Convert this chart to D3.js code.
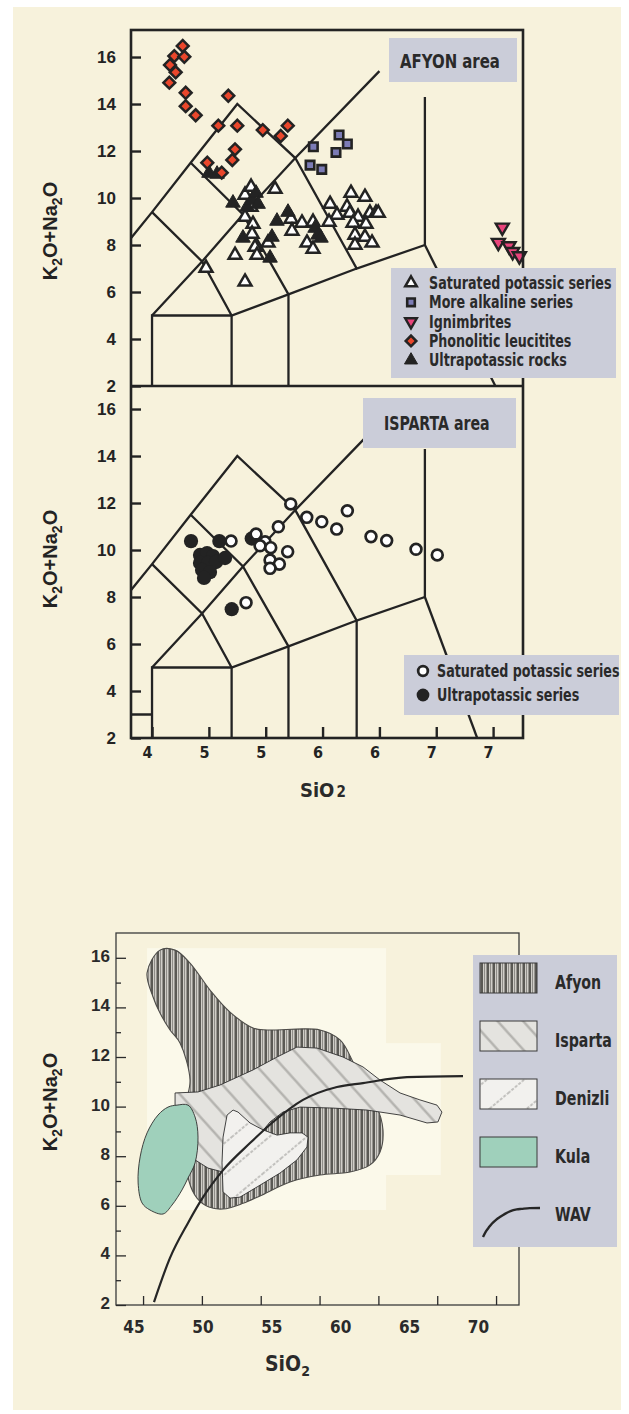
<!DOCTYPE html>
<html>
<head>
<meta charset="utf-8">
<script src="https://cdn.jsdelivr.net/npm/d3@7"></script>
<style>
body { margin: 0; background: #fff; }
svg { display: block; }
</style>
</head>
<body>
<script>
// ---- data ----
var tasTicksX = [45, 50, 55, 60, 65, 70, 75];
var tasTickLabelsX = ['4', '5', '5', '6', '6', '7', '7'];
var tasTicksY = [2, 4, 6, 8, 10, 12, 14, 16];

// TAS field boundaries (SiO2, K2O+Na2O)
var tasLines = [
  [[41, 7], [45, 9.4], [48.4, 11.5], [52.5, 14], [57.6, 11.7], [63, 7], [69, 8]],
  [[45, 9.4], [49.4, 7.3], [52, 5]],
  [[45, 5], [49.4, 7.3], [53, 9.3], [57.6, 11.7], [65, 15.4]],
  [[48.4, 11.5], [53, 9.3], [57, 5.9]],
  [[45, 2], [45, 5], [52, 5], [57, 5.9], [63, 7]],
  [[52, 2], [52, 5]],
  [[57, 2], [57, 5.9]],
  [[69, 8], [69, 14.3]]
];
var afyonOnlyLines = [[[69, 8], [75.2, 2]]];
var ispartaOnlyLines = [[[69, 8], [73.6, 2]], [[63, 2], [63, 7]], [[41, 3], [45, 3]]];

var afyonSaturated = [[53.18, 10.13], [53.71, 10.47], [55.82, 10.38], [53.18, 9.19], [53.88, 8.89], [53.8, 8.47],
  [54.06, 7.91], [54.23, 7.57], [55.2, 8.09], [52.3, 7.57], [57.23, 9.11], [57.31, 8.6], [58.19, 8.94], [58.63, 8.09],
  [59.16, 7.83], [59.16, 8.98], [60.66, 9.74], [61.27, 9.28], [60.57, 8.98], [62.5, 10.21], [63.73, 10.04], [62.15, 9.62],
  [62.41, 9.36], [63.12, 9.19], [64.17, 9.36], [64.7, 9.36], [64.9, 9.36], [62.68, 8.94], [63.82, 8.89], [62.85, 8.43],
  [63.73, 8.34], [62.85, 8.0], [64.35, 8.09], [49.75, 7.02], [53.18, 6.43], [53.71, 9.62]];
var afyonUltrapotassic = [[50.01, 11.06], [50.72, 11.02], [52.12, 9.79], [53.36, 9.62], [53.8, 9.91], [54.15, 10.21],
  [54.33, 9.74], [55.99, 9.02], [56.96, 9.4], [53.0, 8.3], [55.55, 8.34], [55.38, 7.45], [59.34, 8.72], [59.6, 8.43],
  [59.86, 8.3]];
var afyonAlkaline = [[61.45, 12.68], [62.18, 12.3], [61.18, 11.94], [59.19, 12.18], [58.9, 11.4], [59.93, 11.22]];
var afyonIgnimbrite = [[75.81, 8.75], [75.46, 8.1], [76.4, 7.96], [76.72, 7.71], [77.31, 7.53]];
var afyonLeucitite = [[47.7, 16.47], [46.96, 16.04], [47.84, 16.01], [46.58, 15.66], [47.08, 15.35], [46.52, 14.91],
  [47.96, 14.48], [47.96, 13.91], [48.84, 13.52], [51.71, 14.35], [50.83, 13.08], [52.5, 13.08], [54.74, 12.89],
  [56.94, 13.08], [56.32, 12.64], [52.3, 12.07], [52.06, 11.62], [49.86, 11.5], [51.13, 11.08]];

var ispartaSaturated = [[57.2, 11.96], [56.11, 10.99], [58.61, 11.39], [59.93, 11.2], [61.24, 10.89], [62.18, 11.67],
  [64.26, 10.57], [65.64, 10.4], [68.22, 10.03], [70.09, 9.79], [51.95, 10.38], [54.15, 10.68], [54.94, 10.35],
  [54.5, 10.18], [55.44, 10.1], [56.93, 9.93], [55.38, 9.57], [56.2, 9.4], [55.38, 9.22], [53.27, 7.76]];
var ispartaUltrapotassic = [[48.43, 10.38], [50.92, 10.38], [53.77, 10.49], [52.01, 7.48], [49.22, 9.79], [49.84, 9.87],
  [50.36, 9.74], [49.22, 9.45], [49.93, 9.45], [50.63, 9.49], [51.42, 9.66], [49.4, 9.15], [50.1, 9.06], [49.57, 8.81]];

var afyonLegend = ['Saturated potassic series', 'More alkaline series', 'Ignimbrites', 'Phonolitic leucitites', 'Ultrapotassic rocks'];
var ispartaLegend = ['Saturated potassic series', 'Ultrapotassic series'];

// comparison plot
var allTicksX = [45, 50, 55, 60, 65, 70, 75];
var allLabelsX = [45, 50, 55, 60, 65, 70];
var allTicksY = [2, 4, 6, 8, 10, 12, 14, 16];
var allMinorY = [3, 5, 7, 9, 11, 13, 15];

var fieldAfyon = [[45.34, 15.39], [46.44, 16.31], [47.72, 16.31], [48.99, 15.79], [50.69, 14.7], [52.39, 13.81],
  [54.35, 13.17], [55.54, 13.09], [60.04, 13.09], [61.74, 12.69], [62.76, 11.88], [63.61, 10.87], [64.8, 10.06],
  [65.39, 9.06], [65.14, 8.17], [64.29, 7.65], [62.59, 7.36], [60.04, 7.24], [57.49, 6.96], [54.94, 6.4], [53.5, 6.1],
  [51.8, 5.87], [50.6, 5.95], [49.6, 6.3], [48.9, 7.0], [48.6, 8.5], [48.6, 10.0], [48.99, 11.07], [48.14, 12.56],
  [47.29, 13.09], [46.44, 13.77], [45.85, 14.42]];
var fieldIsparta = [[47.72, 10.55], [49.67, 10.59], [51.54, 10.87], [54.35, 11.48], [56.39, 12.0], [58.08, 12.4],
  [59.78, 12.36], [61.99, 12.0], [63.69, 11.6], [65.14, 11.07], [66.84, 10.55], [68.53, 10.27], [69.98, 10.06],
  [70.4, 9.78], [70.06, 9.38], [69.13, 9.34], [66.84, 9.66], [64.03, 9.86], [61.14, 9.94], [58.34, 9.98], [56.89, 9.78],
  [55.79, 9.38], [54.52, 8.65], [53.24, 7.93], [51.8, 7.36], [50.52, 7.52], [49.42, 7.85], [48.57, 8.25], [47.97, 9.06],
  [47.72, 9.86]];
var fieldDenizli = [[52.14, 9.66], [52.65, 9.86], [53.07, 9.78], [54.09, 9.34], [55.2, 9.06], [56.39, 8.85],
  [57.49, 8.94], [58.51, 8.94], [59.02, 8.77], [58.93, 8.37], [58.08, 7.85], [56.64, 7.32], [54.69, 6.76], [53.24, 6.35],
  [52.39, 6.31], [51.8, 6.56], [51.71, 7.73], [51.8, 8.77]];
var fieldKula = [[47.89, 10.06], [48.82, 10.06], [49.42, 9.58], [49.67, 8.77], [49.42, 7.73], [48.82, 7.12],
  [48.31, 6.64], [47.46, 6.03], [46.7, 5.67], [45.59, 5.83], [44.92, 6.11], [44.58, 6.92], [44.75, 7.97], [45.34, 8.94],
  [46.27, 9.66], [47.12, 9.98]];
var wavLine = [[45.93, 2.12], [47.29, 3.9], [48.82, 5.31], [50.1, 6.35], [51.8, 7.44], [54.09, 8.53], [56.05, 9.38],
  [58.59, 10.27], [61.48, 10.79], [63.69, 10.95], [67.43, 11.19], [72.19, 11.23]];
var regionLegend = ['Afyon', 'Isparta', 'Denizli', 'Kula', 'WAV'];

// ---- drawing ----
var ink = '#232323';
var condFont = '"DejaVu Sans Condensed", "DejaVu Sans", sans-serif';
var boldFont = '"Liberation Sans", Arial, sans-serif';

var svg = d3.select('body').append('svg')
  .attr('width', 629)
  .attr('height', 1414);
var defs = svg.append('defs');

svg.append('rect')
  .attr('x', 13).attr('y', 7)
  .attr('width', 608).attr('height', 1403)
  .attr('fill', '#f7f2dc');

var xTas = d3.scaleLinear().domain([43.15, 77.63]).range([131, 523]);
var yAfyon = d3.scaleLinear().domain([2, 17.15]).range([386, 30]);
var yIsparta = d3.scaleLinear().domain([2, 16.98]).range([738, 386]);

function condText(parent, x, y, str, size) {
  return parent.append('text')
    .attr('transform', 'translate(' + x + ',' + y + ') scale(0.83,1)')
    .attr('font-family', condFont)
    .attr('font-weight', 'bold')
    .attr('font-size', size)
    .attr('fill', '#2a2a2a')
    .text(str);
}

function symbolPath(shape, size) {
  if (shape == 'circle') return d3.symbol(d3.symbolCircle, size)();
  if (shape == 'square' || shape == 'diamond') return d3.symbol(d3.symbolSquare, size)();
  return d3.symbol(d3.symbolTriangle, size)();
}
function symbolRotate(shape) {
  if (shape == 'diamond') return ' rotate(45)';
  if (shape == 'triDown') return ' rotate(180)';
  return '';
}

var styles = {
  white:   { shape: 'triUp',   size: 72, fill: '#ffffff', stroke: ink, sw: 2.5 },
  black:   { shape: 'triUp',   size: 92, fill: ink,       stroke: ink, sw: 1 },
  alk:     { shape: 'square',  size: 72, fill: '#7c7cb6', stroke: ink, sw: 2.6 },
  ign:     { shape: 'triDown', size: 74, fill: '#e8447b', stroke: ink, sw: 2.4 },
  leu:     { shape: 'diamond', size: 70, fill: '#ea472c', stroke: ink, sw: 2.5 },
  wcircle: { shape: 'circle',  size: 92, fill: '#ffffff', stroke: ink, sw: 2.7 },
  bcircle: { shape: 'circle',  size: 160, fill: ink,      stroke: 'none', sw: 0 }
};

function drawMarkers(g, data, st, y) {
  g.selectAll(null)
    .data(data)
    .enter().append('path')
    .attr('d', symbolPath(st.shape, st.size))
    .attr('transform', function(d) { return 'translate(' + xTas(d[0]) + ',' + y(d[1]) + ')' + symbolRotate(st.shape); })
    .attr('fill', st.fill)
    .attr('stroke', st.stroke)
    .attr('stroke-width', st.sw)
    .attr('stroke-linejoin', 'miter');
}

function drawPanel(id, y, extraLines, series) {
  var clip = defs.append('clipPath').attr('id', id);
  clip.append('rect')
    .attr('x', xTas.range()[0]).attr('y', y.range()[1])
    .attr('width', xTas.range()[1] - xTas.range()[0])
    .attr('height', y.range()[0] - y.range()[1]);

  var line = d3.line().x(function(d) { return xTas(d[0]); }).y(function(d) { return y(d[1]); });
  svg.append('g').attr('clip-path', 'url(#' + id + ')')
    .selectAll('path')
    .data(tasLines.concat(extraLines))
    .enter().append('path')
    .attr('d', line)
    .attr('fill', 'none')
    .attr('stroke', ink)
    .attr('stroke-width', 2.3)
    .attr('stroke-linejoin', 'miter');

  var mg = svg.append('g');
  series.forEach(function(s) { drawMarkers(mg, s[0], s[1], y); });

  var ax = svg.append('g')
    .attr('transform', 'translate(' + xTas.range()[0] + ',0)')
    .call(d3.axisLeft(y).tickValues(tasTicksY).tickSizeInner(-10).tickSizeOuter(0).tickPadding(15));
  ax.select('.domain').remove();
  ax.attr('color', ink).attr('font-size', 17).attr('font-family', boldFont).attr('font-weight', 'bold');
  ax.selectAll('line').attr('stroke-width', 2.4);
  ax.selectAll('text').attr('dy', '0.33em');
}

drawPanel('clipAfyon', yAfyon, afyonOnlyLines, [
  [afyonSaturated, styles.white],
  [afyonUltrapotassic, styles.black],
  [afyonAlkaline, styles.alk],
  [afyonIgnimbrite, styles.ign],
  [afyonLeucitite, styles.leu]
]);
drawPanel('clipIsparta', yIsparta, ispartaOnlyLines, [
  [ispartaUltrapotassic, styles.bcircle],
  [ispartaSaturated, styles.wcircle]
]);

// x axis of the two TAS panels
var xAx = svg.append('g')
  .attr('transform', 'translate(0,' + yIsparta.range()[0] + ')')
  .call(d3.axisBottom(xTas).tickValues(tasTicksX).tickSizeInner(-11).tickSizeOuter(0).tickPadding(9)
    .tickFormat(function(d, i) { return tasTickLabelsX[i]; }));
xAx.select('.domain').remove();
xAx.attr('color', ink).attr('font-size', 16).attr('font-family', condFont).attr('font-weight', 'bold');
xAx.selectAll('line').attr('stroke-width', 2.4);
xAx.selectAll('text').attr('dx', -5);

// frames
svg.append('rect')
  .attr('x', 131).attr('y', 30).attr('width', 392).attr('height', 708)
  .attr('fill', 'none').attr('stroke', ink).attr('stroke-width', 2.6);
svg.append('line')
  .attr('x1', 131).attr('x2', 523).attr('y1', yAfyon(2)).attr('y2', yAfyon(2))
  .attr('stroke', ink).attr('stroke-width', 2.6);

// area labels
var boxFill = '#cbcdd9';
svg.append('rect').attr('x', 389).attr('y', 38).attr('width', 128).attr('height', 44).attr('fill', boxFill);
condText(svg, 400, 68, 'AFYON area', 20);
svg.append('rect').attr('x', 363).attr('y', 398).attr('width', 153).attr('height', 50).attr('fill', boxFill);
condText(svg, 384, 430, 'ISPARTA area', 19);

// legend Afyon
svg.append('rect').attr('x', 391).attr('y', 268).attr('width', 225).attr('height', 110).attr('fill', boxFill);
var legStyles1 = [styles.white, styles.alk, styles.ign, styles.leu, styles.black];
afyonLegend.forEach(function(lbl, i) {
  var cy = 283 + i * 19.3;
  var st = legStyles1[i];
  svg.append('path')
    .attr('d', symbolPath(st.shape, st.size * 0.8))
    .attr('transform', 'translate(411,' + cy + ')' + symbolRotate(st.shape))
    .attr('fill', st.fill).attr('stroke', st.stroke).attr('stroke-width', st.sw);
  condText(svg, 429, cy + 6, lbl, 17);
});

// legend Isparta
svg.append('rect').attr('x', 404).attr('y', 655).attr('width', 215).attr('height', 60).attr('fill', boxFill);
var legStyles2 = [styles.wcircle, styles.bcircle];
ispartaLegend.forEach(function(lbl, i) {
  var cy = 671 + i * 24;
  var st = legStyles2[i];
  svg.append('path')
    .attr('d', symbolPath(st.shape, st.size * 0.8))
    .attr('transform', 'translate(423,' + cy + ')')
    .attr('fill', st.fill).attr('stroke', st.stroke).attr('stroke-width', st.sw);
  condText(svg, 437, cy + 6, lbl, 17);
});

// axis titles
function yTitle(cy) {
  var t = svg.append('text')
    .attr('transform', 'translate(57,' + cy + ') rotate(-90)')
    .attr('text-anchor', 'middle')
    .attr('font-family', boldFont).attr('font-weight', 'bold')
    .attr('font-size', 20).attr('fill', ink);
  t.append('tspan').text('K');
  t.append('tspan').attr('dy', 5).attr('font-size', 14).text('2');
  t.append('tspan').attr('dy', -5).text('O+Na');
  t.append('tspan').attr('dy', 5).attr('font-size', 14).text('2');
  t.append('tspan').attr('dy', -5).text('O');
}
yTitle(231);
yTitle(559);
yTitle(1102);

var sio = svg.append('text')
  .attr('x', 300).attr('y', 797)
  .attr('font-family', condFont).attr('font-weight', 'bold')
  .attr('font-size', 20).attr('fill', '#2a2a2a');
sio.append('tspan').text('SiO');
sio.append('tspan').attr('dx', 2).attr('font-size', 15).text('2');

// ---- comparison plot ----
var xAll = d3.scaleLinear().domain([42.7, 76.95]).range([116, 519]);
var yAll = d3.scaleLinear().domain([2, 17.0]).range([1305, 933]);
var xAllLabel = d3.scaleLinear().domain([45, 70]).range([133.5, 478]);

// patterns
var pAf = defs.append('pattern').attr('id', 'afyonStripes')
  .attr('patternUnits', 'userSpaceOnUse').attr('width', 6).attr('height', 6);
pAf.append('rect').attr('width', 6).attr('height', 6).attr('fill', '#d0cec8');
pAf.append('rect').attr('x', 0.5).attr('width', 2.5).attr('height', 6).attr('fill', '#5a5954');
pAf.append('rect').attr('x', 4).attr('width', 1).attr('height', 6).attr('fill', '#8f8d88');

var pIs = defs.append('pattern').attr('id', 'ispartaLines')
  .attr('patternUnits', 'userSpaceOnUse').attr('width', 19).attr('height', 19)
  .attr('patternTransform', 'rotate(-42)');
pIs.append('rect').attr('width', 19).attr('height', 19).attr('fill', '#e4e3df');
pIs.append('line').attr('x1', 9.5).attr('x2', 9.5).attr('y1', 0).attr('y2', 19)
  .attr('stroke', '#afaeaa').attr('stroke-width', 2.2);

var pDe = defs.append('pattern').attr('id', 'denizliLines')
  .attr('patternUnits', 'userSpaceOnUse').attr('width', 24).attr('height', 24)
  .attr('patternTransform', 'rotate(50)');
pDe.append('rect').attr('width', 24).attr('height', 24).attr('fill', '#f2f1ee');
pDe.append('line').attr('x1', 12).attr('x2', 12).attr('y1', 0).attr('y2', 24)
  .attr('stroke', '#b3b2ae').attr('stroke-width', 1.5).attr('stroke-dasharray', '3,1.5');

// lighter pasted blocks behind the fields
svg.append('rect')
  .attr('x', xAll(45.34)).attr('y', yAll(16.39))
  .attr('width', xAll(65.65) - xAll(45.34)).attr('height', yAll(5.83) - yAll(16.39))
  .attr('fill', '#fbf9ea');
svg.append('rect')
  .attr('x', xAll(48.3)).attr('y', yAll(12.56))
  .attr('width', xAll(70.3) - xAll(48.3)).attr('height', yAll(7.24) - yAll(12.56))
  .attr('fill', '#fbf9ea');

var smooth = d3.line().x(function(d) { return xAll(d[0]); }).y(function(d) { return yAll(d[1]); })
  .curve(d3.curveCatmullRomClosed.alpha(0.5));
var straight = d3.line().x(function(d) { return xAll(d[0]); }).y(function(d) { return yAll(d[1]); })
  .curve(d3.curveLinearClosed);

svg.append('path').datum(fieldAfyon).attr('d', smooth)
  .attr('fill', 'url(#afyonStripes)').attr('stroke', '#4d4c49').attr('stroke-width', 1.1);
svg.append('path').datum(fieldIsparta).attr('d', straight)
  .attr('fill', 'url(#ispartaLines)').attr('stroke', '#2f2f2f').attr('stroke-width', 0.9);
svg.append('path').datum(fieldDenizli).attr('d', straight)
  .attr('fill', 'url(#denizliLines)').attr('stroke', '#2f2f2f').attr('stroke-width', 0.9);
svg.append('path').datum(fieldKula).attr('d', smooth)
  .attr('fill', '#9fd0bb').attr('stroke', '#2f2f2f').attr('stroke-width', 0.9);

var wav = d3.line().x(function(d) { return xAll(d[0]); }).y(function(d) { return yAll(d[1]); })
  .curve(d3.curveMonotoneX);
svg.append('path').datum(wavLine).attr('d', wav)
  .attr('fill', 'none').attr('stroke', '#262626').attr('stroke-width', 2.2);

// frame and axes
svg.append('rect')
  .attr('x', xAll.range()[0]).attr('y', yAll.range()[1])
  .attr('width', xAll.range()[1] - xAll.range()[0]).attr('height', yAll.range()[0] - yAll.range()[1])
  .attr('fill', 'none').attr('stroke', '#3b3b3b').attr('stroke-width', 1.3);

var ayMajor = svg.append('g').attr('transform', 'translate(' + xAll.range()[0] + ',0)')
  .call(d3.axisLeft(yAll).tickValues(allTicksY).tickSizeInner(-10).tickSizeOuter(0).tickPadding(6));
var ayMinor = svg.append('g').attr('transform', 'translate(' + xAll.range()[0] + ',0)')
  .call(d3.axisLeft(yAll).tickValues(allMinorY).tickSizeInner(-5).tickSizeOuter(0).tickFormat(''));
var axTicks = svg.append('g').attr('transform', 'translate(0,' + yAll.range()[0] + ')')
  .call(d3.axisBottom(xAll).tickValues(allTicksX).tickSizeInner(-9).tickSizeOuter(0).tickFormat(''));
var axLabels = svg.append('g').attr('transform', 'translate(0,' + yAll.range()[0] + ')')
  .call(d3.axisBottom(xAllLabel).tickValues(allLabelsX).tickSize(0).tickPadding(16));
[ayMajor, ayMinor, axTicks, axLabels].forEach(function(g) {
  g.select('.domain').remove();
  g.attr('color', '#2a2a2a');
  g.selectAll('line').attr('stroke-width', 1.3);
});
axLabels.selectAll('line').remove();
ayMajor.attr('font-size', 17).attr('font-family', boldFont).attr('font-weight', 'bold');
ayMajor.selectAll('text').attr('dy', '0.2em');
axLabels.attr('font-size', 17).attr('font-family', condFont).attr('font-weight', 'bold');

var sio2 = svg.append('text')
  .attr('x', 265).attr('y', 1371)
  .attr('font-family', condFont).attr('font-weight', 'bold')
  .attr('font-size', 21).attr('fill', '#2a2a2a');
sio2.append('tspan').text('SiO');
sio2.append('tspan').attr('dy', 5).attr('font-size', 14).text('2');

// legend of the comparison plot
svg.append('rect').attr('x', 473).attr('y', 955).attr('width', 144).attr('height', 292).attr('fill', boxFill);
var swatchFill = ['url(#afyonStripes)', 'url(#ispartaLines)', 'url(#denizliLines)', '#9fd0bb'];
regionLegend.forEach(function(lbl, i) {
  var top = 963 + i * 58;
  if (i < 4) {
    svg.append('rect')
      .attr('x', 480).attr('y', top).attr('width', 57).attr('height', 30)
      .attr('fill', swatchFill[i]).attr('stroke', '#3a3a3a').attr('stroke-width', 1);
  } else {
    var lx = d3.scaleLinear().domain(d3.extent(wavLine, function(d) { return d[0]; })).range([483, 540]);
    var ly = d3.scaleLinear().domain(d3.extent(wavLine, function(d) { return d[1]; })).range([1237, 1208]);
    svg.append('path').datum(wavLine)
      .attr('d', d3.line().x(function(d) { return lx(d[0]); }).y(function(d) { return ly(d[1]); }).curve(d3.curveMonotoneX))
      .attr('fill', 'none').attr('stroke', '#262626').attr('stroke-width', 2.4);
  }
  condText(svg, 555, top + 26, lbl, 19);
});
</script>
</body>
</html>
